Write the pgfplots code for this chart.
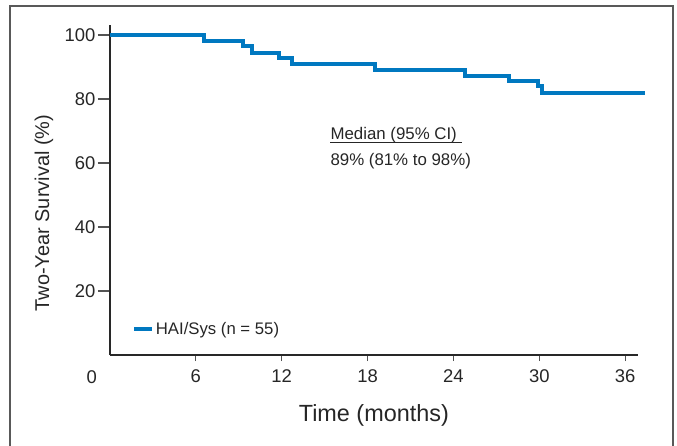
\documentclass[border=0pt]{standalone}
\usepackage{fontspec}
\setmainfont{Liberation Sans}
\usepackage{pgfplots}
\pgfplotsset{compat=1.18}
\definecolor{kmblue}{RGB}{0,120,192}
\definecolor{axgray}{RGB}{40,40,40}
\begin{document}
\begin{tikzpicture}
\useasboundingbox (-110bp,-91bp) rectangle (567bp,355bp);
\draw[gray!70!black, line width=1.5bp] (-100bp,-120bp) -- (-100bp,349bp) -- (563bp,349bp) -- (563bp,-120bp);
% y ticks with longer tick marks
\begin{axis}[
  at={(0,0)}, anchor=south west,
  width=527.7bp, height=330bp, scale only axis,
  xmin=0, xmax=36.88, ymin=0, ymax=103.1,
  hide x axis, axis y line=left,
  axis line style={draw=none},
  ytick={20,40,60,80,100},
  tick align=outside,
  major tick length=12bp,
  tick style={line width=1.2bp, axgray!80},
  yticklabel style={font=\fontsize{18.5}{22}\selectfont, text=black!85, inner xsep=2.5bp},
  /pgf/number format/assume math mode=true,
]
\addplot[draw=none, forget plot] coordinates {(0,0)};
\end{axis}
\begin{axis}[
  at={(0,0)}, anchor=south west,
  width=527.7bp, height=330bp, scale only axis,
  xmin=0, xmax=36.88, ymin=0, ymax=103.1,
  axis x line=bottom, axis y line=left,
  axis line style={-, line width=2bp, axgray},
  xtick={6,12,18,24,30,36}, ytick=\empty,
  tick align=outside,
  major tick length=6bp,
  tick style={line width=1.2bp, axgray!80},
  xticklabel style={font=\fontsize{18.5}{22}\selectfont, text=black!85, yshift=-5bp},
  /pgf/number format/assume math mode=true,
  clip=false,
  xlabel={Time (months)},
  ylabel={Two-Year Survival (\%)},
  xlabel style={font=\fontsize{23.5}{27}\selectfont, text=black!85, at={(axis description cs:0.5,-0.202)}, anchor=base},
  ylabel style={font=\fontsize{20}{24}\selectfont, text=black!85, at={(axis description cs:-0.125,0.43)}, anchor=center},
  legend style={draw=none, fill=none, at={(axis cs:1.55,8.1)}, anchor=west, inner sep=0pt, font=\fontsize{16.8}{19}\selectfont, text=black!85},
  legend image code/.code={\draw[#1, line width=3.5bp] (0bp,0bp) -- (18bp,0bp);},
]
\addplot[const plot, kmblue, line width=4bp] coordinates {
(0,100) (6.6,98.2) (9.3,96.4) (9.9,94.5) (11.8,92.7) (12.7,90.9) (18.5,89.1) (24.8,87.3) (27.9,85.5) (29.9,84.0) (30.2,81.8) (37.4,81.8)
};
\addlegendentry{HAI/Sys (n = 55)}
\node[anchor=base west, inner sep=0pt, font=\fontsize{16.9}{20}\selectfont, text=black!85] (med) at (axis cs:15.4,67.4) {Median (95\% CI)};
\draw[line width=1bp, black!85] ([yshift=-3.4bp]med.base west) -- ++(132bp,0);
\node[anchor=base west, inner sep=0pt, font=\fontsize{16.9}{20}\selectfont, text=black!85] at (axis cs:15.4,59.2) {89\% (81\% to 98\%)};
\node[anchor=base, inner sep=0pt, font=\fontsize{18.5}{22}\selectfont, text=black!85, yshift=-28bp] at (axis cs:-1.28,0) {0};
\end{axis}
\end{tikzpicture}
\end{document}
